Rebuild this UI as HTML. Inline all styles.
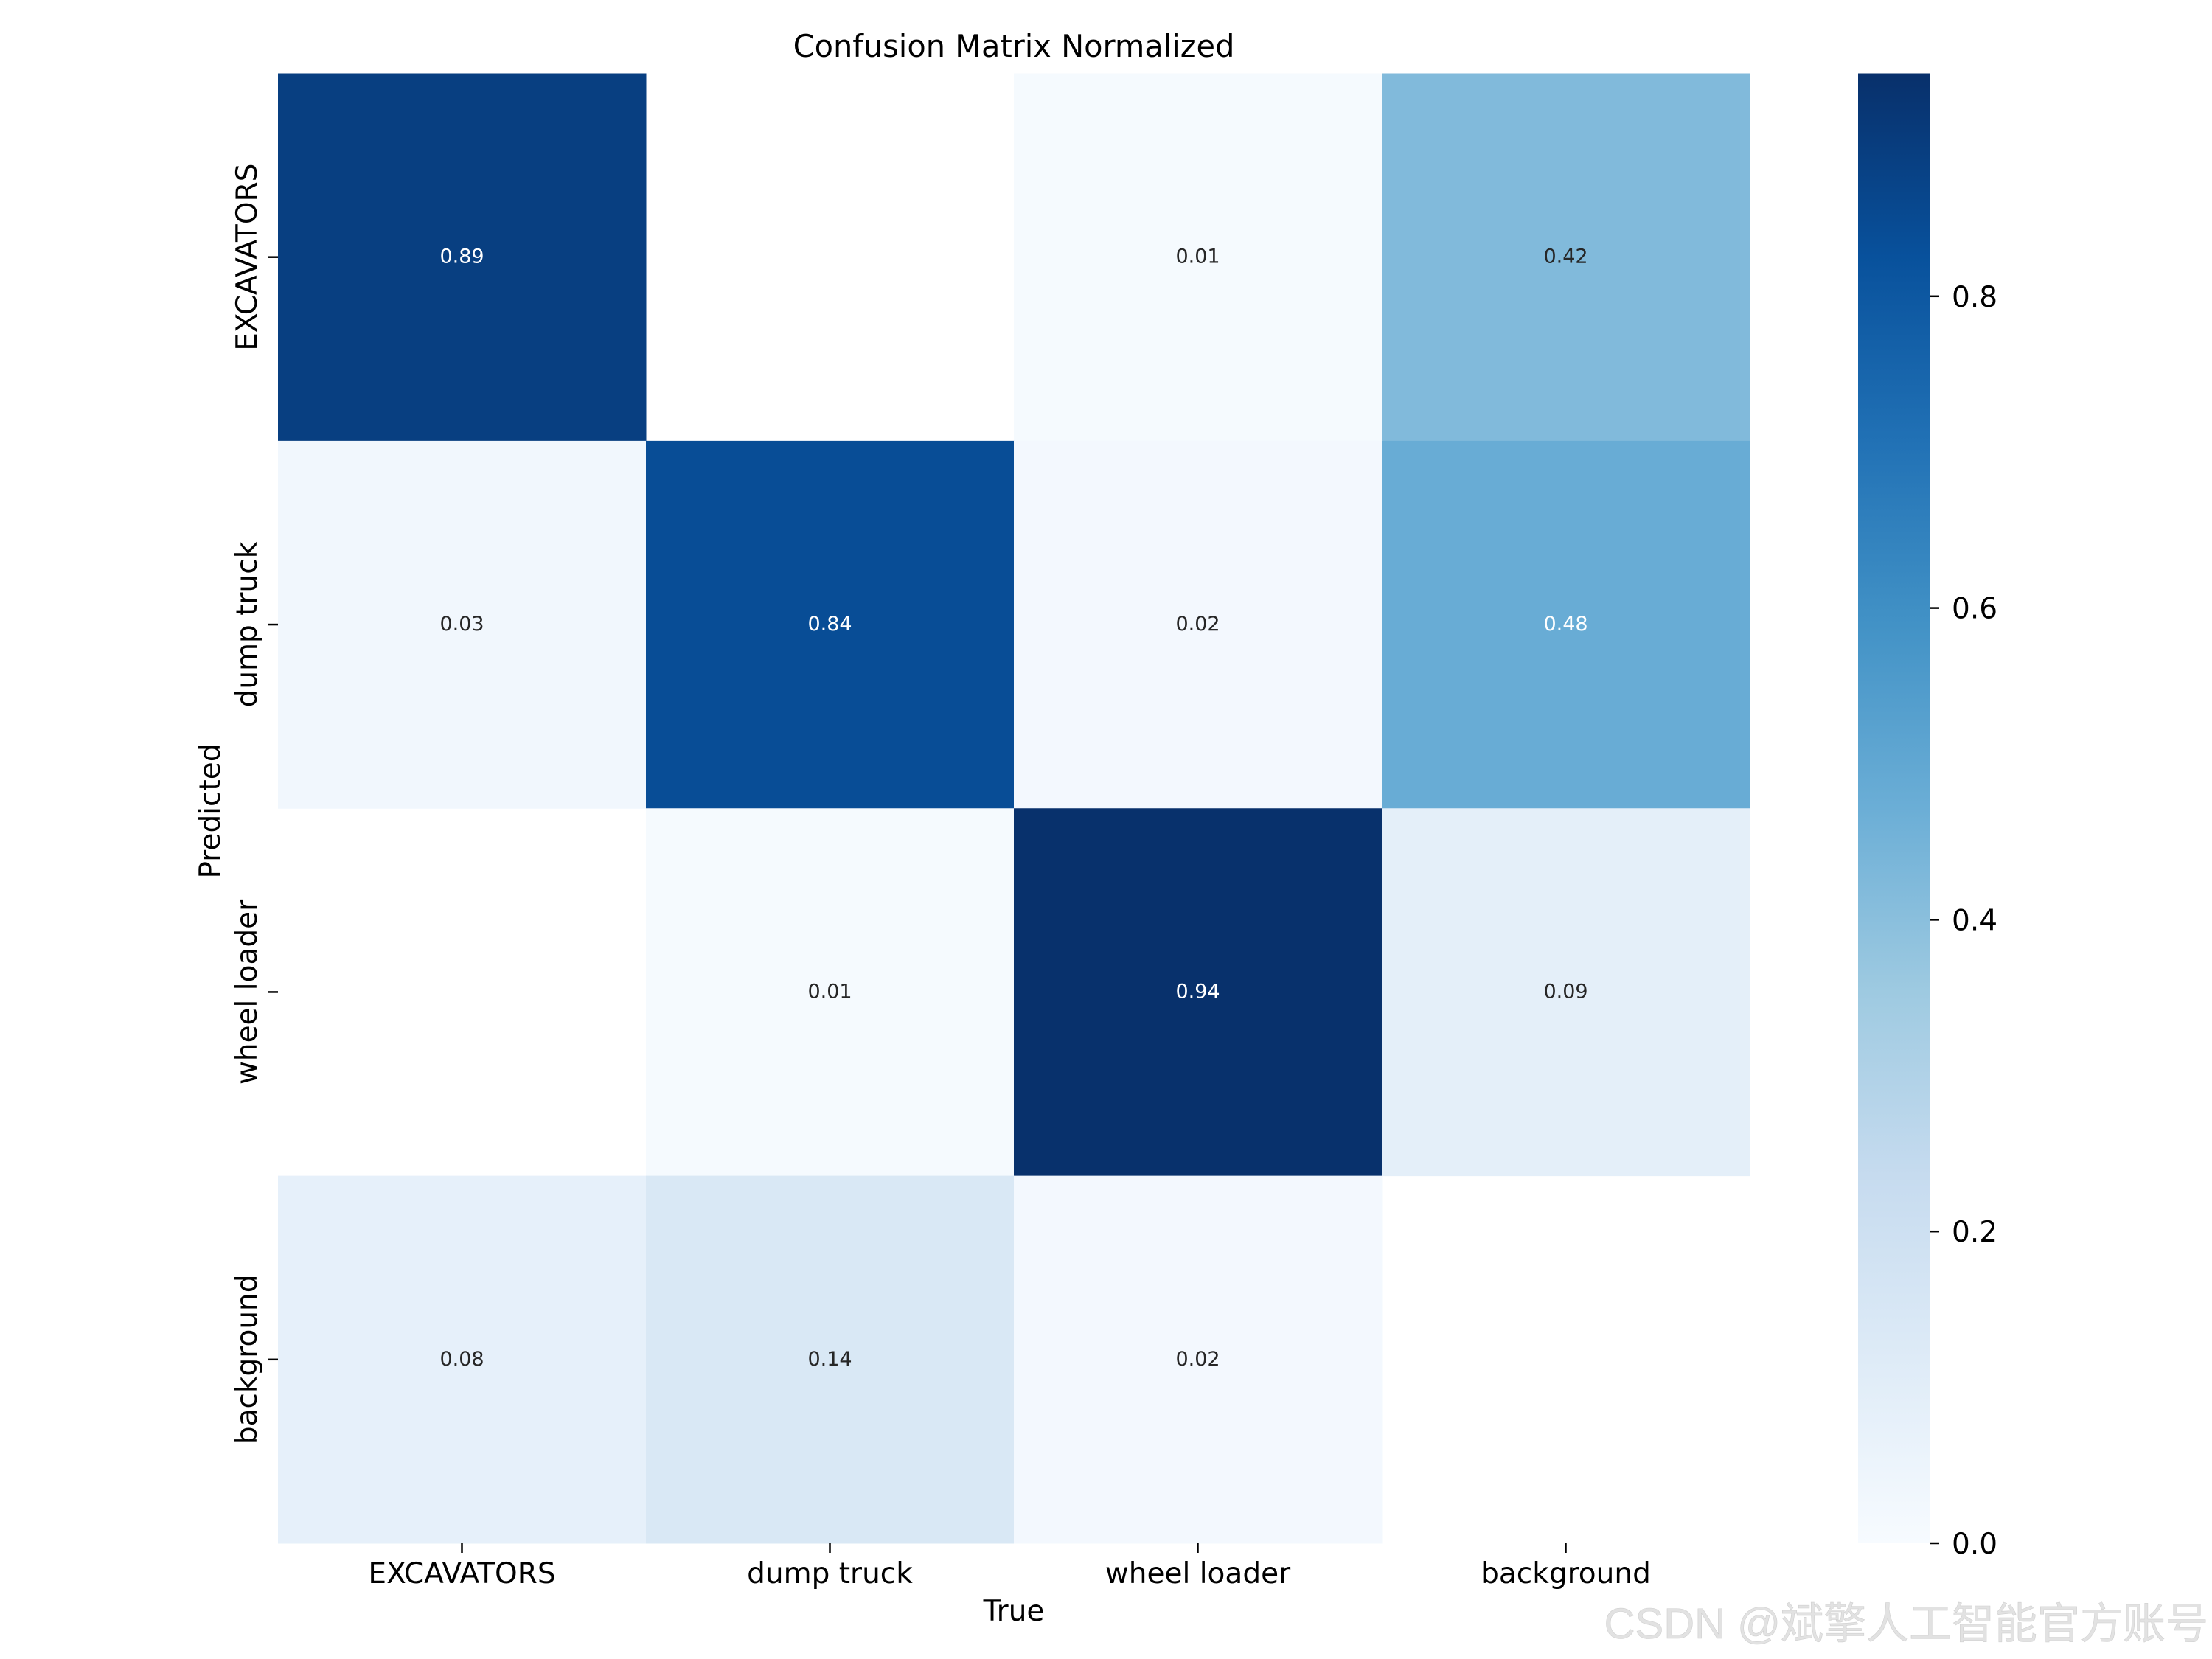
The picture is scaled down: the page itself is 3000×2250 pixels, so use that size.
<!DOCTYPE html>
<html><head><meta charset="utf-8"><style>
html,body{margin:0;padding:0;background:#fff;}
svg{display:block;font-family:"DejaVu Sans","Liberation Sans",sans-serif;}
</style></head><body>
<svg id="chart" width="3000" height="2250" viewBox="0 0 3000 2250" xmlns="http://www.w3.org/2000/svg">
<defs>
<linearGradient id="cbgrad" x1="0" y1="1" x2="0" y2="0">
<stop offset="0" stop-color="#f7fbff"/><stop offset="0.125" stop-color="#deebf7"/><stop offset="0.25" stop-color="#c6dbef"/><stop offset="0.375" stop-color="#9ecae1"/><stop offset="0.5" stop-color="#6baed6"/><stop offset="0.625" stop-color="#4292c6"/><stop offset="0.75" stop-color="#2171b5"/><stop offset="0.875" stop-color="#08519c"/><stop offset="1" stop-color="#08306b"/>
</linearGradient>
</defs>
<text x="1375" y="77" font-size="41.5" text-anchor="middle" fill="#000">Confusion Matrix Normalized</text>
<g id="cells"></g>
<g id="axes"></g>
<rect x="2520" y="99.5" width="97" height="1993.5" fill="url(#cbgrad)"/>
<g id="cbticks"></g>
<text x="1375" y="2198" font-size="39" text-anchor="middle" fill="#000">True</text>
<text transform="translate(298,1100) rotate(-90)" font-size="39" text-anchor="middle" fill="#000">Predicted</text>
<text x="2995" y="2222" font-size="58" text-anchor="end" fill="#e2e2e2" stroke="#d0d0d0" stroke-width="0.6" font-family="'Liberation Sans','Noto Sans CJK SC',sans-serif">CSDN @斌擎人工智能官方账号</text>
</svg>
<script>
const categories = ["EXCAVATORS","dump truck","wheel loader","background"];
const row0 = [0.89, null, 0.01, 0.42];
const row1 = [0.03, 0.84, 0.02, 0.48];
const row2 = [null, 0.01, 0.94, 0.09];
const row3 = [0.08, 0.14, 0.02, null];
const cbTicks = [0.0, 0.2, 0.4, 0.6, 0.8];
const vmax = 0.943;

const NS = "http://www.w3.org/2000/svg";
const X0 = 377, Y0 = 99.5, X1 = 2373, Y1 = 2093;
const cw = (X1 - X0) / categories.length, ch = (Y1 - Y0) / categories.length;
const xPos = i => X0 + i * cw;
const yPos = i => Y0 + i * ch;
const cbY = v => 2093 - (v / vmax) * (2093 - 99.5);
const stops = [[0,"#f7fbff"],[0.125,"#deebf7"],[0.25,"#c6dbef"],[0.375,"#9ecae1"],[0.5,"#6baed6"],[0.625,"#4292c6"],[0.75,"#2171b5"],[0.875,"#08519c"],[1,"#08306b"]];
function hex(h){return [1,3,5].map(i=>parseInt(h.substr(i,2),16));}
function color(v){
  let t = Math.max(0, Math.min(1, v / vmax));
  for (let i = 0; i < stops.length - 1; i++) {
    if (t <= stops[i+1][0]) {
      const f = (t - stops[i][0]) / (stops[i+1][0] - stops[i][0]);
      const a = hex(stops[i][1]), b = hex(stops[i+1][1]);
      return "rgb(" + a.map((c,k)=>Math.round(c + (b[k]-c)*f)).join(",") + ")";
    }
  }
  return stops[stops.length-1][1];
}
function mk(tag, attrs){const e=document.createElementNS(NS,tag);for(const k in attrs)e.setAttribute(k,attrs[k]);return e;}
const rows = [row0,row1,row2,row3];
const cells = document.getElementById("cells");
rows.forEach((row, r) => row.forEach((v, c) => {
  if (v === null) return;
  const rect = mk("rect", {x:xPos(c), y:yPos(r), width:cw+0.5, height:ch+0.5, fill:color(v)});
  
  
  cells.appendChild(rect);
  const t = mk("text", {x:xPos(c)+cw/2, y:yPos(r)+ch/2+8, "font-size":27, "text-anchor":"middle", fill:(v/vmax > 0.45 ? "#fff" : "#262626")});
  t.textContent = v.toFixed(2);
  
  
  cells.appendChild(t);
}));
const axes = document.getElementById("axes");
categories.forEach((name, i) => {
  const cx = xPos(i) + cw/2, cy = yPos(i) + ch/2;
  const tx = mk("line", {x1:cx, y1:Y1, x2:cx, y2:Y1+13, stroke:"#000", "stroke-width":2.5});
  
  
  axes.appendChild(tx);
  const lx = mk("text", {x:cx, y:2147, "font-size":39, "text-anchor":"middle", fill:"#000"});
  lx.textContent = name;
  
  
  axes.appendChild(lx);
  const ty = mk("line", {x1:X0-13, y1:cy, x2:X0, y2:cy, stroke:"#000", "stroke-width":2.5});
  
  
  axes.appendChild(ty);
  const ly = mk("text", {transform:"translate(348,"+cy+") rotate(-90)", "font-size":39, "text-anchor":"middle", fill:"#000"});
  ly.textContent = name;
  
  
  axes.appendChild(ly);
});
const cbt = document.getElementById("cbticks");
cbTicks.forEach(v => {
  const y = cbY(v);
  const l = mk("line", {x1:2617, y1:y, x2:2630, y2:y, stroke:"#000", "stroke-width":2.5});
  
  
  cbt.appendChild(l);
  const t = mk("text", {x:2647, y:y+14, "font-size":39, fill:"#000"});
  t.textContent = v.toFixed(1);
  
  
  cbt.appendChild(t);
});
</script>
</body></html>
